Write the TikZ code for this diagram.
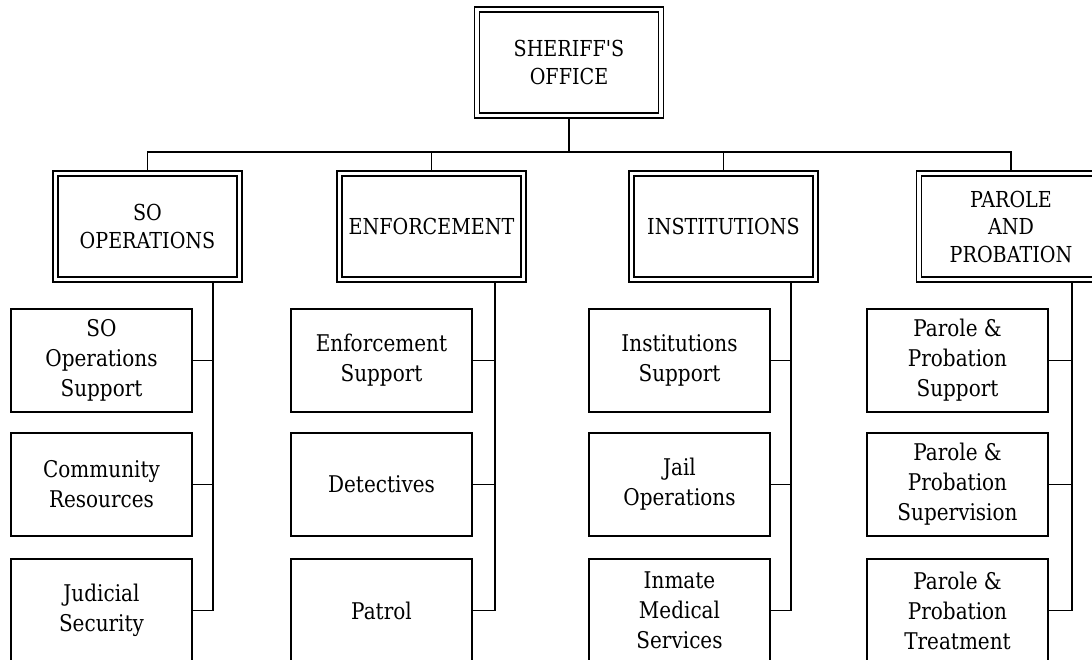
\documentclass[tikz,border=0pt]{standalone}
\usepackage{fontspec}
\newfontfamily\orgfont{DejaVu Serif}[FakeStretch=0.87]
\usetikzlibrary{backgrounds}
\begin{document}
\begin{tikzpicture}[x=1pt,y=-1pt,
  line width=1.4pt,
  head/.style={draw, double, double distance=3.6pt, line width=1.3pt,
    minimum width=184pt, minimum height=106pt, inner sep=0pt, align=center,
    font=\orgfont\fontsize{22}{27.5}\selectfont},
  unit/.style={draw, line width=1.4pt, minimum width=181pt, minimum height=103pt,
    inner sep=0pt, align=center, font=\orgfont\fontsize{23}{30}\selectfont},
  conn/.style={draw, line width=1.4pt}]
\useasboundingbox (0,0) rectangle (1092,660);
\clip (0,0) rectangle (1092,660);

% top
\node[head] (sh) at (569,62.5) {SHERIFF'S\\OFFICE};
% divisions
\node[head] (so) at (147.5,226.5) {SO\\OPERATIONS};
\node[head] (en) at (431.5,226.5) {ENFORCEMENT};
\node[head] (in) at (723.5,226.5) {INSTITUTIONS};
\node[head] (pp) at (1011,226.5) {PAROLE\\AND\\PROBATION};

% units
\node[unit] (so1) at (101.5,360.5) {SO\\Operations\\Support};
\node[unit] (so2) at (101.5,484.5) {Community\\Resources};
\node[unit] (so3) at (101.5,610.5) {Judicial\\Security};

\node[unit] (en1) at (381.5,360.5) {Enforcement\\Support};
\node[unit] (en2) at (381.5,484.5) {Detectives};
\node[unit] (en3) at (381.5,610.5) {Patrol};

\node[unit] (in1) at (679.5,360.5) {Institutions\\Support};
\node[unit] (in2) at (679.5,484.5) {Jail\\Operations};
\node[unit] (in3) at (679.5,610.5) {Inmate\\Medical\\Services};

\node[unit] (pp1) at (957.5,360.5) {Parole \&\\Probation\\Support};
\node[unit] (pp2) at (957.5,484.5) {Parole \&\\Probation\\Supervision};
\node[unit] (pp3) at (957.5,610.5) {Parole \&\\Probation\\Treatment};

\coordinate (bus) at (569,152);
\coordinate (soT) at (213,282);
\coordinate (enT) at (495,282);
\coordinate (inT) at (791,282);
\coordinate (ppT) at (1072,282);

\begin{scope}[on background layer]
  \fill[white] (0,0) rectangle (1092,660);
  \draw[conn] (sh.south) -- (bus);
  \draw[conn] (so.north) |- (bus) -| (pp.north);
  \draw[conn] (en.north) -- (en.north |- bus);
  \draw[conn] (in.north) -- (in.north |- bus);
  \foreach \d in {so,en,in,pp} {
    \draw[conn] (\d T) |- (\d3.east);
    \draw[conn] (\d1.east) -- (\d1.east -| \d T);
    \draw[conn] (\d2.east) -- (\d2.east -| \d T);
  }
\end{scope}
\end{tikzpicture}
\end{document}
